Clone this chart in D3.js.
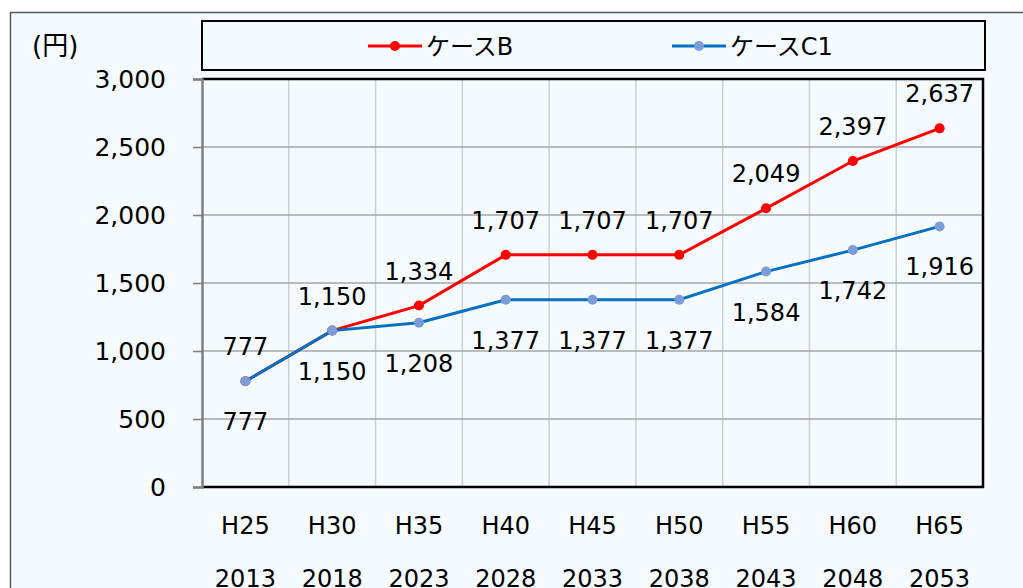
<!DOCTYPE html>
<html>
<head>
<meta charset="utf-8">
<script src="https://cdn.jsdelivr.net/npm/d3@7"></script>
<style>
  body { margin: 0; background: #fff; }
  text { font-family: "DejaVu Sans", "Noto Sans CJK JP", sans-serif; fill: #000; }
</style>
</head>
<body>
<div id="vis"></div>
<script>
// data
const ERAS = ["H25", "H30", "H35", "H40", "H45", "H50", "H55", "H60", "H65"];
const YEARS = ["2013", "2018", "2023", "2028", "2033", "2038", "2043", "2048", "2053"];
const CASE_B = [777, 1150, 1334, 1707, 1707, 1707, 2049, 2397, 2637];
const CASE_C1 = [777, 1150, 1208, 1377, 1377, 1377, 1584, 1742, 1916];
const Y_TICKS = [0, 500, 1000, 1500, 2000, 2500, 3000];
const SERIES_NAMES = ["ケースB", "ケースC1"];

// frame
const FRAME_WIDTH = 1023;
const FRAME_HEIGHT = 588;
const PLOT = {left: 202, right: 983, top: 79, bottom: 487};

const svg = d3.select("#vis")
  .append("svg")
    .attr("width", FRAME_WIDTH)
    .attr("height", FRAME_HEIGHT);

// chart background + outer border
svg.append("rect")
  .attr("x", 10.5).attr("y", 12.5)
  .attr("width", 1030).attr("height", 600)
  .style("fill", "#f5fafe")
  .style("stroke", "#595959")
  .style("stroke-width", 1.5);

const X_SCALE = d3.scaleBand()
  .domain(ERAS)
  .range([PLOT.left, PLOT.right]);

const Y_SCALE = d3.scaleLinear()
  .domain([0, 3000])
  .range([PLOT.bottom, PLOT.top]);

const xc = (i) => X_SCALE(ERAS[i]) + X_SCALE.bandwidth() / 2;

// vertical gridlines at band edges
svg.append("g")
  .selectAll("line")
  .data(ERAS.slice(1))
  .enter()
  .append("line")
    .attr("x1", (d) => X_SCALE(d)).attr("x2", (d) => X_SCALE(d))
    .attr("y1", PLOT.top).attr("y2", PLOT.bottom)
    .style("stroke", "#d0d0d0")
    .style("stroke-width", 1.5);

// horizontal gridlines
svg.append("g")
  .selectAll("line")
  .data(Y_TICKS.slice(1, -1))
  .enter()
  .append("line")
    .attr("x1", PLOT.left).attr("x2", PLOT.right)
    .attr("y1", (d) => Y_SCALE(d)).attr("y2", (d) => Y_SCALE(d))
    .style("stroke", "#a6a6a6")
    .style("stroke-width", 1.5);

// plot border (top, right, bottom black)
svg.append("path")
  .attr("d", "M" + PLOT.left + "," + PLOT.top + "H" + PLOT.right + "V" + PLOT.bottom + "H" + PLOT.left)
  .style("fill", "none")
  .style("stroke", "#000")
  .style("stroke-width", 2.5);

// y axis
const yAxis = svg.append("g")
  .attr("transform", "translate(" + PLOT.left + ",0)")
  .call(d3.axisLeft(Y_SCALE)
          .tickValues(Y_TICKS)
          .tickSize(9)
          .tickPadding(27)
          .tickFormat(d3.format(",")));
yAxis.select(".domain").style("stroke", "#7f7f7f").style("stroke-width", 2.5);
yAxis.selectAll(".tick line").style("stroke", "#7f7f7f").style("stroke-width", 1.5);
yAxis.selectAll("text")
  .attr("font-size", "25px")
  .attr("font-family", null)
  .style("fill", "#000");

// x axis labels (two lines)
svg.append("g")
  .selectAll("text")
  .data(ERAS)
  .enter()
  .append("text")
    .attr("x", (d, i) => xc(i))
    .attr("y", 534)
    .attr("text-anchor", "middle")
    .attr("font-size", "24px")
    .text((d) => d);

svg.append("g")
  .selectAll("text")
  .data(YEARS)
  .enter()
  .append("text")
    .attr("x", (d, i) => xc(i))
    .attr("y", 587)
    .attr("text-anchor", "middle")
    .attr("font-size", "24px")
    .text((d) => d);

// unit label
svg.append("text")
  .attr("x", 32).attr("y", 55)
  .attr("font-size", "26px")
  .text("(円)");

// lines
const line = d3.line()
  .x((d, i) => xc(i))
  .y((d) => Y_SCALE(d));

function drawSeries(values, lineColor, markerColor) {
  svg.append("path")
    .datum(values)
    .attr("d", line)
    .style("fill", "none")
    .style("stroke", lineColor)
    .style("stroke-width", 3);

  svg.append("g")
    .selectAll("circle")
    .data(values)
    .enter()
    .append("circle")
      .attr("cx", (d, i) => xc(i))
      .attr("cy", (d) => Y_SCALE(d))
      .attr("r", 5)
      .style("fill", markerColor);
}

function drawLabels(values, labelDy) {
  svg.append("g")
    .selectAll("text")
    .data(values)
    .enter()
    .append("text")
      .attr("x", (d, i) => xc(i))
      .attr("y", (d) => Y_SCALE(d) + labelDy)
      .attr("text-anchor", "middle")
      .attr("font-size", "24px")
      .text((d) => d3.format(",")(d));
}

// B first, C1 drawn on top
drawSeries(CASE_B, "#ff0000", "#ff0000");
drawSeries(CASE_C1, "#0070c0", "#7a9cd8");
drawLabels(CASE_B, -26);
drawLabels(CASE_C1, 49);

// legend
svg.append("rect")
  .attr("x", 202).attr("y", 21)
  .attr("width", 783).attr("height", 49)
  .style("fill", "#f5fafe")
  .style("stroke", "#000")
  .style("stroke-width", 2);

const LEGEND = [
  {name: SERIES_NAMES[0], x: 368, line: "#ff0000", marker: "#ff0000"},
  {name: SERIES_NAMES[1], x: 672, line: "#0070c0", marker: "#7a9cd8"}
];

const lg = svg.append("g")
  .selectAll("g")
  .data(LEGEND)
  .enter()
  .append("g")
    .attr("transform", (d) => "translate(" + d.x + ",46)");

lg.append("line")
  .attr("x1", 0).attr("x2", 54)
  .style("stroke", (d) => d.line)
  .style("stroke-width", 3);
lg.append("circle")
  .attr("cx", 27).attr("r", 5)
  .style("fill", (d) => d.marker);
lg.append("text")
  .attr("x", 58).attr("y", 9)
  .attr("font-size", "24px")
  .text((d) => d.name);
</script>
</body>
</html>
